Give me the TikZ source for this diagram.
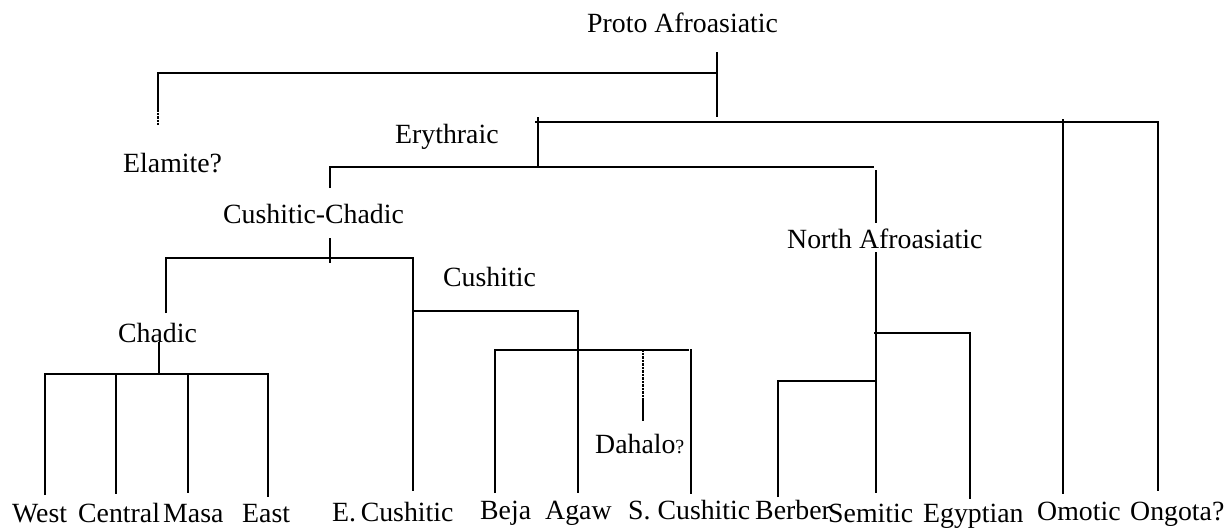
\documentclass[tikz,border=0pt]{standalone}
\usepackage{fontspec}
\setmainfont{Liberation Serif}
\tikzset{
  lbl/.style={inner sep=0pt, anchor=base west, font=\fontsize{27.8}{33}\selectfont},
  branch/.style={line width=1.4pt, line cap=butt, line join=miter},
  faint/.style={line width=1.4pt, dash pattern=on 0.8pt off 0.6pt},
}
\begin{document}
\begin{tikzpicture}[x=1pt,y=-1pt]
\useasboundingbox (0,0) rectangle (1224,528);
% ---------- labels ----------
\node[lbl] (proto) at (587,32) {Proto Afroasiatic};
\node[lbl] (elam) at (123,172) {Elamite?};
\node[lbl] (ery) at (395,143) {Erythraic};
\node[lbl] (cuch) at (223,223) {Cushitic-Chadic};
\node[lbl] (nafr) at (787,248) {North Afroasiatic};
\node[lbl] (cush) at (443,286) {Cushitic};
\node[lbl] (chad) at (118,342) {Chadic};
\node[lbl] (dah) at (595,453) {Dahalo{\fontsize{20}{24}\selectfont ?}};
\node[lbl] (west) at (12,522) {West};
\node[lbl] (cent) at (78,522) {Central};
\node[lbl] (masa) at (163,522) {Masa};
\node[lbl] (east) at (242,522) {East};
\node[lbl] (ecush) at (332,521) {E.\,Cushitic};
\node[lbl] (beja) at (480,519) {Beja};
\node[lbl] (agaw) at (545,519) {Agaw};
\node[lbl] (scush) at (628,519) {S. Cushitic};
\node[lbl] (berb) at (755,519) {Berber};
\node[lbl] (semi) at (828,522) {Semitic};
\node[lbl] (egyp) at (923,522) {Egyptian};
\node[lbl] (omot) at (1037,520) {Omotic};
\node[lbl] (ong) at (1130,520) {Ongota?};
% ---------- junction coordinates ----------
\coordinate (pA) at (717,52);
\coordinate (pB) at (717,117);
\coordinate (pL) at (158,73);
\coordinate (pR) at (717,73);
\coordinate (eA) at (158,110);
\coordinate (eB) at (158,125);
\coordinate (tL) at (535,122);
\coordinate (tR) at (1158,122);
\coordinate (omA) at (1063,119);
\coordinate (omB) at (1063,494);
\coordinate (ongB) at (1158,491);
\coordinate (eryA) at (538,117);
\coordinate (eryB) at (538,167);
\coordinate (yL) at (330,167);
\coordinate (yR) at (874,167);
\coordinate (ccA) at (330,188);
\coordinate (ccB) at (330,238);
\coordinate (ccC) at (330,263);
\coordinate (naA) at (876,170);
\coordinate (naB) at (876,223);
\coordinate (naC) at (876,252);
\coordinate (naD) at (876,493);
\coordinate (cL) at (166,258);
\coordinate (cR) at (413,258);
\coordinate (chA) at (166,313);
\coordinate (ecB) at (413,491);
\coordinate (chB) at (159,342);
\coordinate (chC) at (159,374);
\coordinate (hL) at (45,374);
\coordinate (hR) at (268,374);
\coordinate (h2) at (116,374);
\coordinate (h3) at (188,374);
\coordinate (wB) at (45,495);
\coordinate (cB) at (116,494);
\coordinate (mB) at (188,493);
\coordinate (eaB) at (268,497);
\coordinate (kL) at (413,311);
\coordinate (kR) at (578,311);
\coordinate (agB) at (578,493);
\coordinate (iL) at (495,350);
\coordinate (iR) at (689,350);
\coordinate (bjB) at (495,493);
\coordinate (dA) at (643,350);
\coordinate (dB) at (643,400);
\coordinate (dC) at (643,421);
\coordinate (sA) at (691,349);
\coordinate (sB) at (691,494);
\coordinate (egL) at (874,333);
\coordinate (egR) at (970,333);
\coordinate (egB) at (970,499);
\coordinate (bbL) at (778,381);
\coordinate (bbR) at (876,381);
\coordinate (bbB) at (778,497);
% ---------- connectors ----------
\draw[branch] (pA) -- (pB);
\draw[branch] (pR) -- (pL) -- (eA);
\draw[faint] (eA) -- (eB);
\draw[branch] (tL) -- (tR) -- (ongB);
\draw[branch] (omA) -- (omB);
\draw[branch] (eryA) -- (eryB);
\draw[branch] (ccA) -- (yL) -- (yR);
\draw[branch] (ccB) -- (ccC);
\draw[branch] (naA) -- (naB);
\draw[branch] (naC) -- (naD);
\draw[branch] (chA) -- (cL) -- (cR) -- (ecB);
\draw[branch] (chB) -- (chC);
\draw[branch] (wB) -- (hL) -- (hR) -- (eaB);
\draw[branch] (h2) -- (cB);
\draw[branch] (h3) -- (mB);
\draw[branch] (kL) -- (kR) -- (agB);
\draw[branch] (bjB) -- (iL) -- (iR);
\draw[faint] (dA) -- (dB);
\draw[branch] (dB) -- (dC);
\draw[branch] (sA) -- (sB);
\draw[branch] (egL) -- (egR) -- (egB);
\draw[branch] (bbB) -- (bbL) -- (bbR);
\end{tikzpicture}
\end{document}
